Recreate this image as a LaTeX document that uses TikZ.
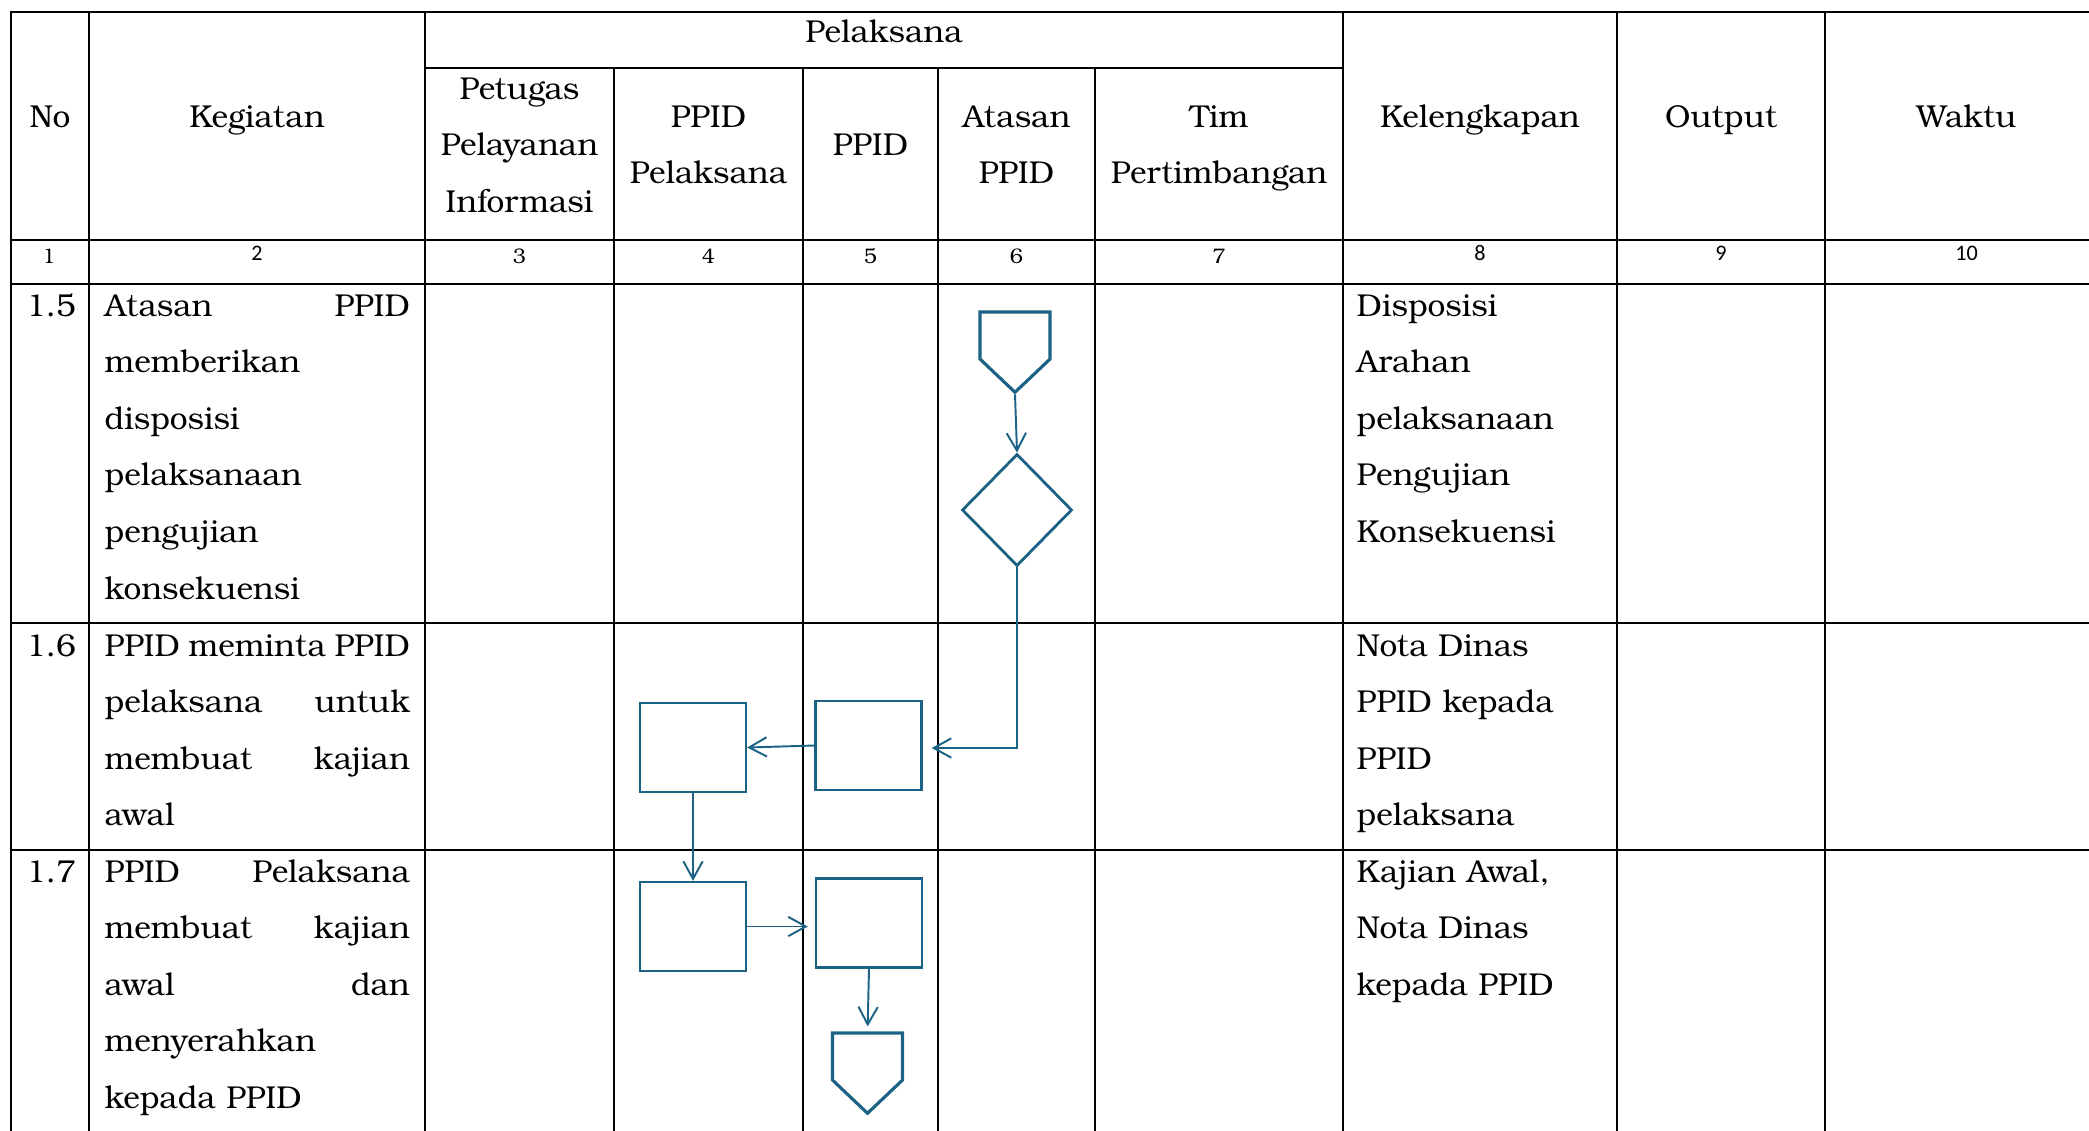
\documentclass[tikz,border=0pt]{standalone}
\usepackage{fontspec}
\setmainfont{TeX Gyre Bonum}
\newfontfamily\numfont{Carlito}
\usetikzlibrary{arrows.meta,shapes.geometric,shapes.symbols}
\definecolor{flowblue}{RGB}{28,98,132}
\def\cellfont{\fontsize{9}{16.1}\selectfont}
\def\jline#1{\leavevmode\hbox to 3.05cm{#1}}

\tikzset{
	tabline/.style={line width=0.55pt, line cap=rect},
	head/.style={anchor=base, inner sep=0pt, font=\cellfont, align=center, text width=#1},
	kegtext/.style={anchor=base west, inner sep=0pt, font=\cellfont, align=left, text width=3.05cm},
	kltext/.style={anchor=base west, inner sep=0pt, font=\cellfont, align=left, text width=2.6cm},
	colnum/.style={inner sep=0pt, font=\fontsize{6}{7}\selectfont},
	proc/.style={draw=flowblue, line width=0.65pt, rectangle, minimum width=1.06cm, minimum height=0.89cm, inner sep=0pt},
	decide/.style={draw=flowblue, line width=0.8pt, diamond, minimum width=1.10cm, minimum height=1.12cm, inner sep=0pt},
	offpage/.style={draw=flowblue, line width=0.9pt, signal, signal to=south, signal pointer angle=93, minimum width=0.70cm, minimum height=0.47cm, inner sep=0pt},
	flow/.style={draw=flowblue, line width=0.55pt, -{Straight Barb[length=5pt,width=5.5pt]}}
}

\begin{document}
\begin{tikzpicture}[x=0.01cm, y=-0.01cm]
	%%%%% START %%%%%
	\useasboundingbox (0,0) rectangle (2089,1130);
	
	% table rules
	\draw[tabline] (11,12) -- (2120,12);
	\draw[tabline] (425,68) -- (1343,68);
	\foreach \y in {240,284,623,850}
		\draw[tabline] (11,\y) -- (2120,\y);
	\foreach \x in {11,89,425,1343,1617,1825}
		\draw[tabline] (\x,12) -- (\x,1140);
	\foreach \x in {614,803,938,1095}
		\draw[tabline] (\x,68) -- (\x,1140);
	
	% header
	\node[head=0.7cm] (hno) at (50,127) {No};
	\node[head=3cm] (hkeg) at (257,127) {Kegiatan};
	\node[head=9cm] (hpel) at (884,42) {Pelaksana};
	\node[head=1.85cm] (hpet) at (519.5,99) {Petugas\\Pelayanan\\Informasi};
	\node[head=1.85cm] (hppl) at (708.5,127) {PPID\\Pelaksana};
	\node[head=1.3cm] (hppid) at (870.5,155) {PPID};
	\node[head=1.5cm] (hatas) at (1016.5,127) {Atasan\\PPID};
	\node[head=2.4cm] (htim) at (1219,127) {Tim\\Pertimbangan};
	\node[head=2.7cm] (hkel) at (1480,127) {Kelengkapan};
	\node[head=2cm] (hout) at (1721,127) {Output};
	\node[head=2.5cm] (hwak) at (1966.5,127) {Waktu};
	
	% column numbers
	\foreach \x/\n in {49/1, 519.5/3, 708.5/4, 870.5/5, 1016.5/6, 1219/7}
		\node[colnum] (c\n) at (\x,256) {\n};
	\foreach \x/\n in {257/2, 1480/8, 1721/9, 1966.5/10}
		\node[colnum, font=\numfont\fontsize{6.3}{7}\selectfont] (c\n) at (\x,253) {\n};
	
	% row 1.5
	\node[head=0.78cm] (no15) at (51,316) {1.5};
	\node[kegtext] (keg15) at (104,316) {\jline{Atasan\hfill PPID}\\memberikan\\disposisi\\pelaksanaan\\pengujian\\konsekuensi};
	\node[kltext] (kel15) at (1356,316) {Disposisi\\Arahan\\pelaksanaan\\Pengujian\\Konsekuensi};
	
	% row 1.6
	\node[head=0.78cm] (no16) at (51,656) {1.6};
	\node[kegtext] (keg16) at (104,656) {\jline{PPID\hfill meminta\hfill PPID}\\\jline{pelaksana\hfill untuk}\\\jline{membuat\hfill kajian}\\awal};
	\node[kltext] (kel16) at (1356,656) {Nota Dinas\\PPID kepada\\PPID\\pelaksana};
	
	% row 1.7
	\node[head=0.78cm] (no17) at (51,882) {1.7};
	\node[kegtext] (keg17) at (104,882) {\jline{PPID\hfill Pelaksana}\\\jline{membuat\hfill kajian}\\\jline{awal\hfill dan}\\menyerahkan\\kepada PPID};
	\node[kltext] (kel17) at (1356,882) {Kajian Awal,\\Nota Dinas\\kepada PPID};
	
	% flow
	\node[offpage] (opa) at (1015,335.5) {};
	\node[decide] (dec) at (1017,510) {};
	\node[proc] (pp16) at (868.5,745.5) {};
	\node[proc] (pl16) at (693,747.5) {};
	\node[proc] (pl17) at (693,926.5) {};
	\node[proc] (pp17) at (869,923) {};
	\node[offpage] (opb) at (867.5,1056.5) {};
	
	\draw[flow] (opa.south) -- (dec.north);
	\draw[flow] (dec.south) |- ([xshift=0.09cm, yshift=-0.025cm]pp16.east);
	\draw[flow] (pp16.west) -- (pl16.east);
	\draw[flow] (pl16.south) -- (pl17.north);
	\draw[flow] (pl17.east) -- ([xshift=-0.07cm]pl17.east -| pp17.west);
	\draw[flow, shorten >=0.05cm] (pp17.south) -- (opb.north);
	%%%%% END %%%%%
\end{tikzpicture}
\end{document}
